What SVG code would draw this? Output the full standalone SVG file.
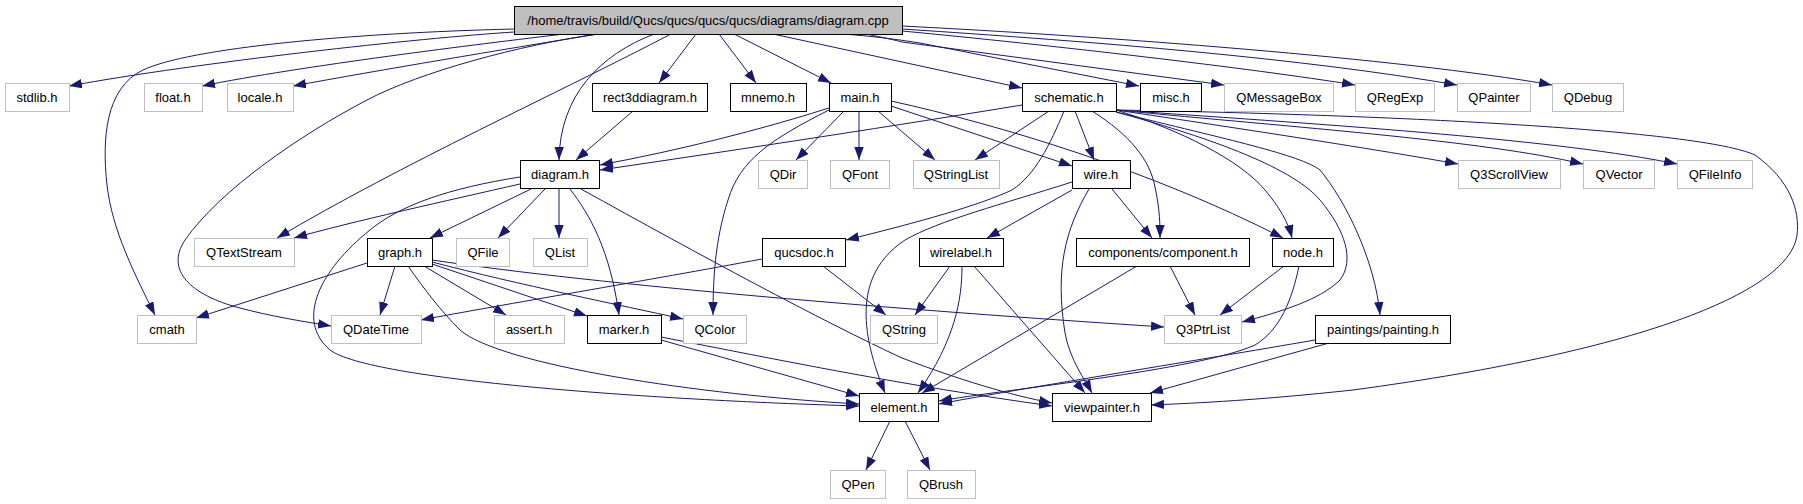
<svg xmlns="http://www.w3.org/2000/svg" width="1803" height="504" viewBox="0 0 1803 504">
<style>
.e{fill:none;stroke:#191970;stroke-width:1;marker-end:url(#a)}
.g rect{fill:#fff;stroke:#bfbfbf;stroke-width:1}
.b rect{fill:#fff;stroke:#000;stroke-width:1}
.r rect{fill:#bfbfbf;stroke:#000;stroke-width:1}
text{font-family:"Liberation Sans",Arial,sans-serif;font-size:13px;fill:#000;text-anchor:middle}
</style>
<defs>
<marker id="a" markerUnits="userSpaceOnUse" markerWidth="14" markerHeight="10" refX="13" refY="4.7" orient="auto"><path d="M0,0 L13,4.7 L0,9.4 z" fill="#191970"/></marker>
</defs>
<rect width="1803" height="504" fill="#fff"/>
<g id="connectors">
<!-- root -->
<path class="e" d="M514,32 C420,38 200,62 69,86"/>
<path class="e" d="M564,34 C480,44 300,66 202,86"/>
<path class="e" d="M598,34 C500,50 380,70 293,86"/>
<path class="e" d="M514,29 C350,33 190,48 143,70 C105,88 102,140 107,185 C112,230 135,275 155,315"/>
<path class="e" d="M598,34 C520,45 420,72 367,100 C300,135 220,190 185,240 C165,270 190,295 240,308 C270,316 300,321 331,326"/>
<path class="e" d="M671,34 C560,92 400,165 277,238"/>
<path class="e" d="M654,34 C600,55 560,95 559,160"/>
<path class="e" d="M696,34 L659,83"/>
<path class="e" d="M719,34 L756,83"/>
<path class="e" d="M734,34 L831,83"/>
<path class="e" d="M773,34 L1022,88"/>
<path class="e" d="M844,34 C870,36 895,39 920,43 L1139,86"/>
<path class="e" d="M866,34 C885,38 895,40 902,42 L1224,85"/>
<path class="e" d="M902,31 C1050,45 1250,68 1355,85"/>
<path class="e" d="M902,29 C1100,42 1300,58 1457,85"/>
<path class="e" d="M902,26 C1100,36 1400,58 1552,85"/>
<!-- rect3d -->
<path class="e" d="M633,111 L576,160"/>
<!-- main -->
<path class="e" d="M829,108 C760,130 680,150 600,165"/>
<path class="e" d="M844,111 L796,160"/>
<path class="e" d="M859,111 L859,160"/>
<path class="e" d="M878,111 L935,160"/>
<path class="e" d="M829,110 C770,140 740,160 728,200 C715,240 713,280 713,315"/>
<path class="e" d="M891,106 L1072,166"/>
<path class="e" d="M891,101 C1000,125 1150,170 1283,238"/>
<!-- schematic -->
<path class="e" d="M1022,105 C900,125 750,148 600,170"/>
<path class="e" d="M1049,111 L975,160"/>
<path class="e" d="M1075,111 L1094,160"/>
<path class="e" d="M1092,111 C1130,135 1150,160 1155,187 C1160,210 1160,225 1160,238"/>
<path class="e" d="M1064,111 C1050,145 1035,175 1012,190 C980,205 920,222 846,240"/>
<path class="e" d="M1116,110 C1180,130 1240,160 1265,190 C1280,208 1288,222 1292,238"/>
<path class="e" d="M1116,112 C1200,135 1290,165 1320,200 C1345,230 1355,260 1340,280 C1320,300 1280,312 1242,322"/>
<path class="e" d="M1116,112 C1230,140 1300,155 1320,170 C1345,200 1375,260 1380,315"/>
<path class="e" d="M1116,110 C1250,130 1380,150 1458,164"/>
<path class="e" d="M1116,110 C1300,128 1480,140 1583,164"/>
<path class="e" d="M1116,110 C1350,126 1560,140 1677,164"/>
<path class="e" d="M1116,110 C1400,115 1700,130 1755,155 C1790,180 1800,210 1797,235 C1790,290 1650,350 1353,390 C1260,400 1200,403 1151,405"/>
<!-- diagram.h -->
<path class="e" d="M520,184 C450,200 350,222 294,238"/>
<path class="e" d="M531,189 L430,238"/>
<path class="e" d="M545,189 L498,238"/>
<path class="e" d="M559,189 L559,238"/>
<path class="e" d="M570,189 C590,215 610,250 619,315"/>
<path class="e" d="M581,189 C700,255 820,320 902,358 C960,380 1010,395 1052,403"/>
<path class="e" d="M520,177 C450,188 400,205 370,230 C320,270 295,320 330,350 C370,380 650,400 859,406"/>
<!-- wire.h -->
<path class="e" d="M1072,182 C1000,205 940,220 905,240 C860,270 855,320 885,393"/>
<path class="e" d="M1072,190 L987,238"/>
<path class="e" d="M1112,189 L1152,238"/>
<path class="e" d="M1089,189 C1065,230 1055,270 1065,333 C1070,360 1085,380 1092,393"/>
<!-- graph.h -->
<path class="e" d="M367,263 L196,318"/>
<path class="e" d="M395,266 L380,315"/>
<path class="e" d="M408,266 C425,290 440,310 460,330 C500,365 700,395 859,404"/>
<path class="e" d="M424,266 L506,315"/>
<path class="e" d="M432,264 L587,316"/>
<path class="e" d="M432,262 C520,285 620,305 683,319"/>
<path class="e" d="M432,260 C600,285 900,310 1164,327"/>
<!-- qucsdoc -->
<path class="e" d="M762,259 C650,280 500,305 421,320"/>
<path class="e" d="M823,266 L886,315"/>
<!-- wirelabel -->
<path class="e" d="M950,266 L915,315"/>
<path class="e" d="M962,266 C962,300 955,340 918,393"/>
<path class="e" d="M974,266 L1085,393"/>
<!-- component -->
<path class="e" d="M1137,266 L922,393"/>
<path class="e" d="M1170,266 L1195,315"/>
<!-- node -->
<path class="e" d="M1284,266 L1220,315"/>
<path class="e" d="M1299,266 C1292,300 1280,330 1255,345 C1200,370 1000,390 939,401"/>
<!-- painting -->
<path class="e" d="M1315,340 C1200,360 1000,392 939,404"/>
<path class="e" d="M1329,343 L1150,393"/>
<!-- marker -->
<path class="e" d="M661,340 L859,396"/>
<path class="e" d="M661,337 C780,360 900,385 1052,406"/>
<!-- element -->
<path class="e" d="M890,421 L866,470"/>
<path class="e" d="M905,421 L930,470"/>
</g>
<g id="n-root" class="r"><rect x="514.5" y="6.5" width="388" height="28"/><text x="708" y="24.5">/home/travis/build/Qucs/qucs/qucs/qucs/diagrams/diagram.cpp</text></g>
<g id="n-stdlib" class="g"><rect x="5.5" y="83.5" width="64" height="28"/><text x="37" y="101.5">stdlib.h</text></g>
<g id="n-float" class="g"><rect x="144.5" y="83.5" width="58" height="28"/><text x="173" y="101.5">float.h</text></g>
<g id="n-locale" class="g"><rect x="227.5" y="83.5" width="66" height="28"/><text x="260" y="101.5">locale.h</text></g>
<g id="n-rect3d" class="b"><rect x="592.5" y="83.5" width="115" height="28"/><text x="650" y="101.5">rect3ddiagram.h</text></g>
<g id="n-mnemo" class="b"><rect x="730.5" y="83.5" width="76" height="28"/><text x="768" y="101.5">mnemo.h</text></g>
<g id="n-main" class="b"><rect x="829.5" y="83.5" width="62" height="28"/><text x="860" y="101.5">main.h</text></g>
<g id="n-schematic" class="b"><rect x="1022.5" y="83.5" width="94" height="28"/><text x="1069" y="101.5">schematic.h</text></g>
<g id="n-misc" class="b"><rect x="1140.5" y="83.5" width="61" height="28"/><text x="1171" y="101.5">misc.h</text></g>
<g id="n-qmessagebox" class="g"><rect x="1224.5" y="83.5" width="109" height="28"/><text x="1279" y="101.5">QMessageBox</text></g>
<g id="n-qregexp" class="g"><rect x="1355.5" y="83.5" width="79" height="28"/><text x="1395" y="101.5">QRegExp</text></g>
<g id="n-qpainter" class="g"><rect x="1457.5" y="83.5" width="73" height="28"/><text x="1494" y="101.5">QPainter</text></g>
<g id="n-qdebug" class="g"><rect x="1552.5" y="83.5" width="71" height="28"/><text x="1588" y="101.5">QDebug</text></g>
<g id="n-diagram" class="b"><rect x="520.5" y="160.5" width="79" height="28"/><text x="560" y="178.5">diagram.h</text></g>
<g id="n-qdir" class="g"><rect x="758.5" y="160.5" width="49" height="28"/><text x="783" y="178.5">QDir</text></g>
<g id="n-qfont" class="g"><rect x="830.5" y="160.5" width="59" height="28"/><text x="860" y="178.5">QFont</text></g>
<g id="n-qstringlist" class="g"><rect x="913.5" y="160.5" width="86" height="28"/><text x="956" y="178.5">QStringList</text></g>
<g id="n-wire" class="b"><rect x="1072.5" y="160.5" width="58" height="28"/><text x="1101" y="178.5">wire.h</text></g>
<g id="n-q3scrollview" class="g"><rect x="1458.5" y="160.5" width="102" height="28"/><text x="1509" y="178.5">Q3ScrollView</text></g>
<g id="n-qvector" class="g"><rect x="1583.5" y="160.5" width="71" height="28"/><text x="1619" y="178.5">QVector</text></g>
<g id="n-qfileinfo" class="g"><rect x="1677.5" y="160.5" width="75" height="28"/><text x="1715" y="178.5">QFileInfo</text></g>
<g id="n-qtextstream" class="g"><rect x="194.5" y="238.5" width="100" height="28"/><text x="244" y="256.5">QTextStream</text></g>
<g id="n-graph" class="b"><rect x="367.5" y="238.5" width="65" height="28"/><text x="400" y="256.5">graph.h</text></g>
<g id="n-qfile" class="g"><rect x="456.5" y="238.5" width="53" height="28"/><text x="483" y="256.5">QFile</text></g>
<g id="n-qlist" class="g"><rect x="533.5" y="238.5" width="54" height="28"/><text x="560" y="256.5">QList</text></g>
<g id="n-qucsdoc" class="b"><rect x="762.5" y="238.5" width="83" height="28"/><text x="804" y="256.5">qucsdoc.h</text></g>
<g id="n-wirelabel" class="b"><rect x="919.5" y="238.5" width="84" height="28"/><text x="961" y="256.5">wirelabel.h</text></g>
<g id="n-component" class="b"><rect x="1076.5" y="238.5" width="173" height="28"/><text x="1163" y="256.5">components/component.h</text></g>
<g id="n-node" class="b"><rect x="1272.5" y="238.5" width="61" height="28"/><text x="1303" y="256.5">node.h</text></g>
<g id="n-cmath" class="g"><rect x="137.5" y="315.5" width="59" height="28"/><text x="167" y="333.5">cmath</text></g>
<g id="n-qdatetime" class="g"><rect x="331.5" y="315.5" width="90" height="28"/><text x="376" y="333.5">QDateTime</text></g>
<g id="n-assert" class="g"><rect x="494.5" y="315.5" width="70" height="28"/><text x="529" y="333.5">assert.h</text></g>
<g id="n-marker" class="b"><rect x="587.5" y="315.5" width="74" height="28"/><text x="624" y="333.5">marker.h</text></g>
<g id="n-qcolor" class="g"><rect x="683.5" y="315.5" width="63" height="28"/><text x="715" y="333.5">QColor</text></g>
<g id="n-qstring" class="g"><rect x="870.5" y="315.5" width="67" height="28"/><text x="904" y="333.5">QString</text></g>
<g id="n-q3ptrlist" class="g"><rect x="1164.5" y="315.5" width="77" height="28"/><text x="1203" y="333.5">Q3PtrList</text></g>
<g id="n-painting" class="b"><rect x="1315.5" y="315.5" width="135" height="28"/><text x="1383" y="333.5">paintings/painting.h</text></g>
<g id="n-element" class="b"><rect x="859.5" y="393.5" width="79" height="28"/><text x="899" y="411.5">element.h</text></g>
<g id="n-viewpainter" class="b"><rect x="1052.5" y="393.5" width="99" height="28"/><text x="1102" y="411.5">viewpainter.h</text></g>
<g id="n-qpen" class="g"><rect x="830.5" y="470.5" width="55" height="28"/><text x="858" y="488.5">QPen</text></g>
<g id="n-qbrush" class="g"><rect x="907.5" y="470.5" width="68" height="28"/><text x="941" y="488.5">QBrush</text></g>
</svg>
